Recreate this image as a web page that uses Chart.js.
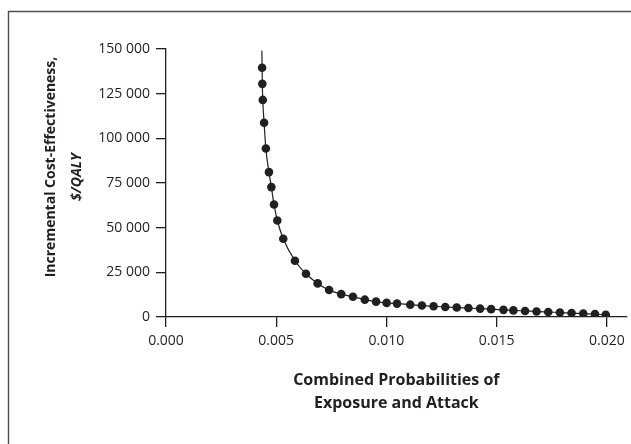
<!DOCTYPE html>
<html>
<head>
<meta charset="utf-8">
<script src="https://cdn.jsdelivr.net/npm/chart.js@4"></script>
<style>
  html, body { margin: 0; padding: 0; background: #fff; }
  #wrap { width: 631px; height: 444px; position: relative; }
</style>
</head>
<body>
<div id="wrap"><canvas id="icerChart"></canvas></div>
<script>
// combined probability of exposure and attack
const probValues = [0.00436, 0.00437, 0.00439, 0.00445, 0.00453, 0.00467, 0.00478, 0.00490, 0.00505, 0.00532,
  0.00585, 0.00635, 0.00688, 0.00740, 0.00795, 0.00848, 0.00902, 0.00953, 0.01001, 0.01048,
  0.01108, 0.01161, 0.01214, 0.01267, 0.01319, 0.01372, 0.01425, 0.01475, 0.01531, 0.01576,
  0.01629, 0.01681, 0.01734, 0.01787, 0.01840, 0.01893, 0.01946, 0.01995];
// incremental cost-effectiveness, $/QALY
const icerValues = [139500, 130500, 121500, 108700, 94300, 81100, 72700, 63000, 54000, 43800,
  31500, 24200, 18800, 15100, 12800, 11300, 9700, 8600, 7900, 7500,
  6900, 6400, 6000, 5600, 5300, 5000, 4700, 4400, 4000, 3700,
  3400, 3100, 2800, 2500, 2200, 1900, 1600, 1300];
// where the fitted curve leaves the top of the plot
const curveTopX = 0.00435;
const curveTopY = 149000;

const xTicks = [0, 0.005, 0.010, 0.015, 0.020];
const xTickLabels = ["0.000", "0.005", "0.010", "0.015", "0.020"];
const yTicks = [0, 25000, 50000, 75000, 100000, 125000, 150000];
const yTickLabels = ["0", "25 000", "50 000", "75 000", "100 000", "125 000", "150 000"];

const xTitle = ["Combined Probabilities of", "Exposure and Attack"];
const yTitle = ["Incremental Cost-Effectiveness,", "$/QALY"];

const ink = "#231f20";
const points = probValues.map((x, i) => ({ x: x, y: icerValues[i] }));
const curve = [{ x: curveTopX, y: curveTopY }].concat(points);

const titlesPlugin = {
  id: "titles",
  beforeDraw(chart) {
    const ctx = chart.ctx;
    ctx.save();
    ctx.strokeStyle = "#4d4d4d";
    ctx.lineWidth = 1.4;
    ctx.beginPath();
    ctx.moveTo(8.5, chart.height);
    ctx.lineTo(8.5, 11.5);
    ctx.lineTo(chart.width, 11.5);
    ctx.stroke();
    ctx.restore();
  },
  afterDraw(chart) {
    const { ctx, chartArea } = chart;
    ctx.save();
    ctx.fillStyle = ink;
    ctx.textAlign = "center";
    ctx.textBaseline = "alphabetic";
    ctx.font = "700 16px 'Open Sans'";
    const cx = (chartArea.left + chartArea.right) / 2;
    ctx.fillText(xTitle[0], cx, chartArea.bottom + 68);
    ctx.fillText(xTitle[1], cx, chartArea.bottom + 91);

    ctx.font = "700 14px 'Open Sans'";
    ctx.save();
    ctx.translate(chartArea.left - 111.5, chartArea.top + 118);
    ctx.rotate(-Math.PI / 2);
    ctx.fillText(yTitle[0], 0, 0);
    ctx.restore();
    ctx.save();
    ctx.translate(chartArea.left - 85.5, chartArea.top + 128);
    ctx.rotate(-Math.PI / 2);
    ctx.font = "italic 700 14px 'Open Sans'";
    ctx.fillText(yTitle[1], 0, 0);
    ctx.restore();
    ctx.restore();
  }
};

const tickFont = { family: "'Open Sans'", size: 14 };

new Chart(document.getElementById("icerChart"), {
  type: "scatter",
  data: {
    datasets: [
      {
        data: points,
        pointRadius: 4.3,
        pointHoverRadius: 4.3,
        backgroundColor: ink,
        borderWidth: 0
      },
      {
        type: "line",
        data: curve,
        borderColor: ink,
        borderWidth: 1.2,
        pointRadius: 0,
        fill: false,
        cubicInterpolationMode: "monotone"
      }
    ]
  },
  options: {
    responsive: true,
    maintainAspectRatio: false,
    animation: false,
    layout: { padding: { left: 0, top: 49, right: 3, bottom: 0 } },
    plugins: {
      legend: { display: false },
      tooltip: { enabled: false }
    },
    scales: {
      x: {
        type: "linear",
        min: 0,
        max: 0.0209,
        afterBuildTicks: s => { s.ticks = xTicks.map(v => ({ value: v })); },
        afterFit: s => { s.height = 127; },
        ticks: {
          callback: (v, i) => xTickLabels[i],
          font: tickFont,
          color: ink,
          padding: 6,
          maxRotation: 0,
          autoSkip: false
        },
        grid: { drawOnChartArea: false, drawTicks: true, tickLength: 10, color: ink, lineWidth: 1.3 },
        border: { display: true, color: ink, width: 1.3 }
      },
      y: {
        min: 0,
        max: 150000,
        afterBuildTicks: s => { s.ticks = yTicks.map(v => ({ value: v })); },
        afterFit: s => { s.width = 166; },
        ticks: {
          callback: (v, i) => yTickLabels[i],
          font: tickFont,
          color: ink,
          padding: 6,
          autoSkip: false
        },
        grid: { drawOnChartArea: false, drawTicks: true, tickLength: 10, color: ink, lineWidth: 1.3 },
        border: { display: true, color: ink, width: 1.3 }
      }
    }
  },
  plugins: [titlesPlugin]
});
</script>
</body>
</html>
